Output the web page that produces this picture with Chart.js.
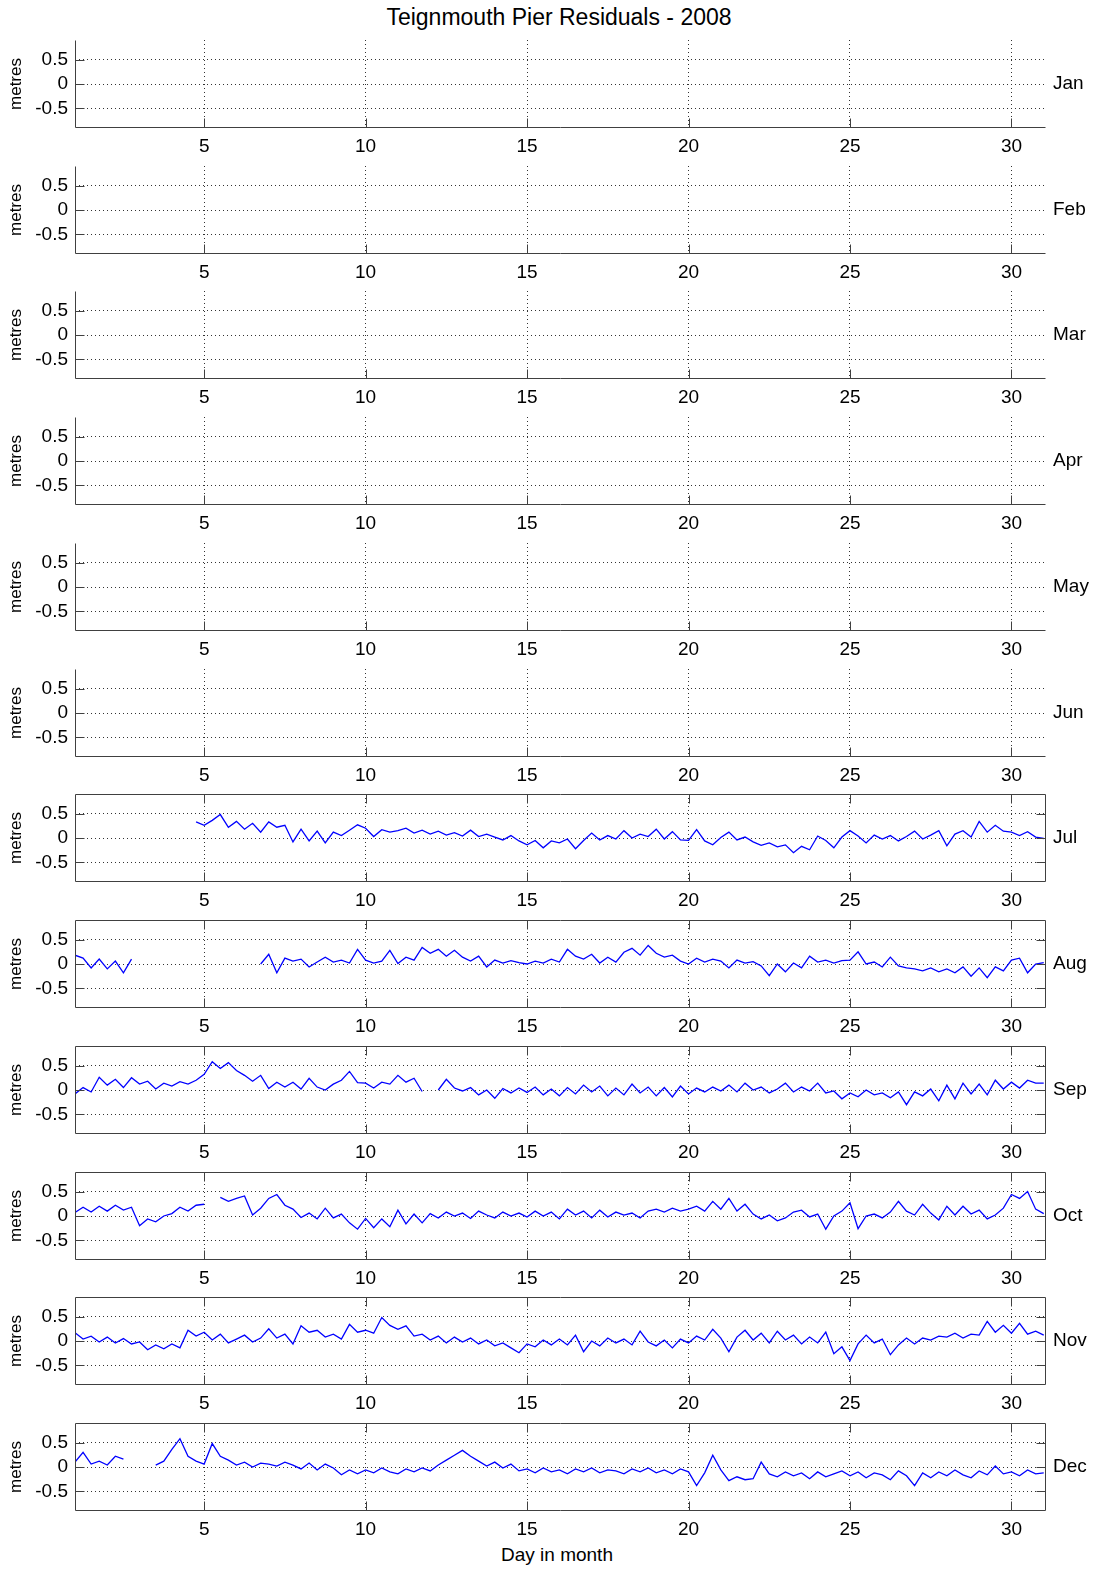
<!DOCTYPE html>
<html>
<head>
<meta charset="utf-8">
<script src="https://cdn.jsdelivr.net/npm/chart.js@4.4.1/dist/chart.umd.min.js"></script>
<style>
  body { margin: 0; background: #fff; width: 1095px; height: 1569px; position: relative; overflow: hidden;
         font-family: "Liberation Sans", Arial, sans-serif; }
  canvas { position: absolute; left: 0; }
  #title { position: absolute; left: 559px; top: 5px; transform: translateX(-50%); font-size: 23px; line-height: 24px; white-space: nowrap; }
  #xlabel { position: absolute; left: 557px; top: 1545px; transform: translateX(-50%); font-size: 19px; line-height: 20px; white-space: nowrap; }
</style>
</head>
<body>
<div id="title">Teignmouth Pier Residuals - 2008</div>
<div id="xlabel">Day in month</div>
<script>
const MONTHS = ['Jan', 'Feb', 'Mar', 'Apr', 'May', 'Jun', 'Jul', 'Aug', 'Sep', 'Oct', 'Nov', 'Dec'];
const DAY_TICKS = [5, 10, 15, 20, 25, 30];
const METRE_TICKS = [-0.5, 0, 0.5];
const STEP = 0.25; // one reading every 6 hours, first one at day 1

// residuals in metres, 4 per day (rows = days 1..30, then day 31)
const jul = [
  null, null, null, null,
  null, null, null, null,
  null, null, null, null,
  null, null, null, 0.33,
  0.26, 0.36, 0.48, 0.22,
  0.34, 0.18, 0.30, 0.12,
  0.33, 0.22, 0.26, -0.08,
  0.18, -0.06, 0.14, -0.10,
  0.12, 0.05, 0.16, 0.27,
  0.20, 0.03, 0.17, 0.12,
  0.15, 0.20, 0.10, 0.16,
  0.08, 0.14, 0.06, 0.11,
  0.04, 0.16, 0.03, 0.08,
  0.02, -0.04, 0.05, -0.06,
  -0.14, -0.05, -0.20, -0.06,
  -0.10, -0.02, -0.22, -0.05,
  0.10, -0.04, 0.05, -0.02,
  0.15, 0.00, 0.08, 0.03,
  0.18, -0.02, 0.13, -0.04,
  -0.05, 0.17, -0.06, -0.14,
  0.01, 0.12, -0.04, 0.02,
  -0.08, -0.15, -0.10, -0.18,
  -0.14, -0.30, -0.17, -0.24,
  0.04, -0.05, -0.20, 0.02,
  0.15, 0.04, -0.10, 0.06,
  -0.02, 0.05, -0.06, 0.03,
  0.14, -0.02, 0.06, 0.15,
  -0.16, 0.08, 0.15, 0.02,
  0.34, 0.12, 0.26, 0.14,
  0.12, 0.05, 0.13, 0.02,
  -0.01
];
const aug = [
  0.18, 0.12, -0.08, 0.10,
  -0.10, 0.06, -0.18, 0.10,
  null, null, null, null,
  null, null, null, null,
  null, null, null, null,
  null, null, null, 0.00,
  0.20, -0.18, 0.12, 0.06,
  0.10, -0.06, 0.04, 0.14,
  0.04, 0.08, 0.02, 0.30,
  0.08, 0.02, 0.06, 0.28,
  0.01, 0.14, 0.08, 0.34,
  0.22, 0.30, 0.16, 0.28,
  0.14, 0.06, 0.16, -0.06,
  0.08, 0.02, 0.07, 0.03,
  0.00, 0.06, 0.02, 0.10,
  0.04, 0.30, 0.16, 0.10,
  0.20, 0.02, 0.14, 0.04,
  0.24, 0.32, 0.18, 0.38,
  0.22, 0.14, 0.18, 0.06,
  0.00, 0.12, 0.04, 0.10,
  0.06, -0.08, 0.08, 0.02,
  0.05, -0.04, -0.24, 0.00,
  -0.16, 0.02, -0.08, 0.16,
  0.04, 0.08, 0.02, 0.07,
  0.08, 0.25, 0.00, 0.04,
  -0.06, 0.14, -0.04, -0.08,
  -0.10, -0.14, -0.08, -0.16,
  -0.10, -0.18, -0.06, -0.25,
  -0.08, -0.28, -0.06, -0.14,
  0.08, 0.12, -0.18, 0.00,
  0.03
];
const sep = [
  -0.08, 0.05, -0.04, 0.26,
  0.10, 0.22, 0.05, 0.25,
  0.12, 0.18, 0.02, 0.14,
  0.08, 0.17, 0.12, 0.20,
  0.32, 0.58, 0.44, 0.56,
  0.40, 0.30, 0.18, 0.30,
  0.03, 0.16, 0.06, 0.16,
  0.02, 0.24, 0.06, 0.00,
  0.12, 0.20, 0.38, 0.15,
  0.14, 0.04, 0.16, 0.12,
  0.30, 0.16, 0.24, -0.03,
  null, 0.00, 0.22, 0.04,
  -0.02, 0.05, -0.10, 0.00,
  -0.17, 0.03, -0.06, 0.04,
  -0.05, 0.06, -0.10, 0.02,
  -0.12, 0.05, -0.08, 0.10,
  -0.04, 0.08, -0.12, 0.04,
  -0.10, 0.12, -0.06, 0.06,
  -0.12, 0.05, -0.14, 0.08,
  -0.08, 0.04, -0.04, 0.06,
  -0.02, 0.10, -0.04, 0.14,
  0.00, 0.06, -0.06, 0.02,
  0.14, -0.04, 0.06, -0.02,
  0.14, -0.06, -0.02, -0.18,
  -0.06, -0.14, 0.00, -0.10,
  -0.06, -0.16, -0.04, -0.30,
  -0.04, -0.12, 0.02, -0.22,
  0.10, -0.18, 0.14, -0.08,
  0.12, -0.10, 0.20, 0.02,
  0.16, 0.04, 0.20, 0.14,
  0.14
];
const oct = [
  0.07, 0.18, 0.08, 0.20,
  0.10, 0.22, 0.12, 0.18,
  -0.20, -0.06, -0.12, 0.00,
  0.05, 0.18, 0.10, 0.22,
  0.24, null, 0.38, 0.30,
  0.36, 0.41, 0.02, 0.16,
  0.36, 0.44, 0.22, 0.14,
  -0.03, 0.06, -0.06, 0.16,
  -0.04, 0.04, -0.14, -0.27,
  -0.05, -0.24, -0.06, -0.22,
  0.12, -0.16, 0.04, -0.14,
  0.05, -0.04, 0.08, 0.00,
  0.06, -0.05, 0.10, 0.02,
  -0.04, 0.08, 0.00, 0.06,
  -0.02, 0.10, 0.00, 0.08,
  -0.06, 0.14, 0.02, 0.10,
  -0.04, 0.12, -0.02, 0.08,
  0.02, 0.06, -0.04, 0.10,
  0.14, 0.08, 0.16, 0.10,
  0.14, 0.20, 0.10, 0.30,
  0.14, 0.36, 0.10, 0.24,
  0.04, -0.06, 0.02, -0.10,
  -0.04, 0.08, 0.12, -0.02,
  0.04, -0.27, 0.00, 0.10,
  0.27, -0.26, 0.00, 0.04,
  -0.04, 0.08, 0.30, 0.10,
  0.02, 0.24, 0.06, -0.08,
  0.20, 0.02, 0.20, 0.04,
  0.12, -0.06, 0.02, 0.16,
  0.44, 0.36, 0.50, 0.14,
  0.05
];
const nov = [
  0.17, 0.04, 0.10, -0.02,
  0.08, -0.04, 0.05, -0.06,
  -0.02, -0.18, -0.08, -0.16,
  -0.06, -0.14, 0.22, 0.10,
  0.18, 0.02, 0.14, -0.04,
  0.04, 0.12, -0.02, 0.06,
  0.25, 0.06, 0.14, -0.06,
  0.31, 0.18, 0.22, 0.08,
  0.14, 0.04, 0.34, 0.18,
  0.22, 0.16, 0.48, 0.32,
  0.24, 0.31, 0.10, 0.14,
  0.02, 0.10, -0.04, 0.08,
  -0.02, 0.06, -0.06, 0.02,
  -0.10, -0.04, -0.14, -0.24,
  -0.06, -0.12, 0.02, -0.08,
  0.04, -0.08, 0.12, -0.22,
  0.00, -0.10, 0.06, -0.04,
  0.04, -0.08, 0.20, -0.02,
  -0.10, 0.02, -0.14, 0.04,
  -0.04, 0.10, 0.02, 0.24,
  0.06, -0.22, 0.08, 0.22,
  0.02, 0.16, -0.04, 0.20,
  0.02, 0.12, -0.06, 0.08,
  -0.04, 0.18, -0.26, -0.12,
  -0.40, -0.06, 0.12, -0.04,
  0.04, -0.28, -0.08, 0.06,
  -0.06, 0.06, 0.02, 0.10,
  0.08, 0.16, 0.06, 0.14,
  0.12, 0.40, 0.18, 0.32,
  0.16, 0.36, 0.14, 0.20,
  0.12
];
const dec = [
  0.10, 0.30, 0.06, 0.12,
  0.04, 0.22, 0.16, null,
  null, null, 0.04, 0.12,
  0.36, 0.58, 0.22, 0.12,
  0.06, 0.48, 0.22, 0.14,
  0.04, 0.10, 0.00, 0.08,
  0.06, 0.02, 0.10, 0.04,
  -0.04, 0.08, -0.06, 0.06,
  -0.02, -0.16, -0.06, -0.14,
  -0.06, -0.12, -0.02, -0.10,
  -0.14, -0.04, -0.10, -0.02,
  -0.08, 0.04, 0.14, 0.24,
  0.34, 0.22, 0.12, 0.02,
  0.10, -0.02, 0.06, -0.08,
  -0.04, -0.12, -0.02, -0.10,
  -0.06, -0.14, -0.04, -0.10,
  -0.02, -0.12, -0.06, -0.08,
  -0.14, -0.04, -0.10, -0.02,
  -0.12, -0.06, -0.14, -0.04,
  -0.10, -0.38, -0.12, 0.24,
  -0.06, -0.28, -0.20, -0.26,
  -0.24, 0.10, -0.14, -0.20,
  -0.10, -0.18, -0.12, -0.24,
  -0.10, -0.20, -0.14, -0.08,
  -0.18, -0.10, -0.22, -0.12,
  -0.16, -0.26, -0.08, -0.18,
  -0.38, -0.12, -0.22, -0.10,
  -0.18, -0.06, -0.16, -0.22,
  -0.08, -0.16, 0.02, -0.14,
  -0.10, -0.18, -0.06, -0.14,
  -0.12
];
const seriesByMonth = [null, null, null, null, null, null, jul, aug, sep, oct, nov, dec];

const FONT = '"Liberation Sans", Arial, sans-serif';
const TICK_LEN = 9;

// matlab style axes: left/bottom line (full box when there is data), inward ticks, labels
const matlabFrame = {
  id: 'matlabFrame',
  afterDraw(chart, args, opts) {
    const { ctx, chartArea: a, scales: { x, y } } = chart;
    const L = Math.round(a.left) + 0.5, R = Math.round(a.right) - 0.5;
    const T = Math.round(a.top) + 0.5, B = Math.round(a.bottom) - 0.5;
    ctx.save();
    ctx.strokeStyle = '#404040';
    ctx.lineWidth = 1;
    ctx.beginPath();
    ctx.moveTo(L, T); ctx.lineTo(L, B); ctx.lineTo(R, B);
    if (opts.boxed) { ctx.lineTo(R, T); ctx.lineTo(L, T); }
    ctx.stroke();

    ctx.beginPath();
    DAY_TICKS.forEach(d => {
      const px = Math.round(x.getPixelForValue(d)) + 0.5;
      ctx.moveTo(px, B); ctx.lineTo(px, B - TICK_LEN);
      if (opts.boxed) { ctx.moveTo(px, T); ctx.lineTo(px, T + TICK_LEN); }
    });
    METRE_TICKS.forEach(v => {
      const py = Math.round(y.getPixelForValue(v)) + 0.5;
      ctx.moveTo(L, py); ctx.lineTo(L + TICK_LEN, py);
      if (opts.boxed) { ctx.moveTo(R, py); ctx.lineTo(R - TICK_LEN, py); }
    });
    ctx.stroke();

    ctx.fillStyle = '#000';
    ctx.textBaseline = 'middle';
    ctx.textAlign = 'left';
    ctx.font = '19px ' + FONT;
    ctx.fillText(opts.month, a.right + 7, y.getPixelForValue(0));

    ctx.translate(16, (a.top + a.bottom) / 2);
    ctx.rotate(-Math.PI / 2);
    ctx.textAlign = 'center';
    ctx.font = '17px ' + FONT;
    ctx.fillText('metres', 0, 0);
    ctx.restore();
  }
};

const noPadding = s => { s.paddingTop = 0; s.paddingBottom = 0; s.paddingLeft = 0; s.paddingRight = 0; };

MONTHS.forEach((month, i) => {
  const zeroY = 84 + i * 125.73;
  const canvas = document.createElement('canvas');
  canvas.width = 1095;
  canvas.height = 124;
  canvas.style.top = Math.round(zeroY - 50) + 'px';
  document.body.appendChild(canvas);

  const values = seriesByMonth[i];
  const points = values ? values.map((v, k) => ({ x: 1 + k * STEP, y: v })) : [];

  new Chart(canvas.getContext('2d'), {
    type: 'line',
    data: {
      datasets: [{
        data: points,
        borderColor: '#0000ff',
        borderWidth: 1.3,
        pointRadius: 0,
        tension: 0,
        fill: false,
        spanGaps: false
      }]
    },
    options: {
      responsive: false,
      animation: false,
      devicePixelRatio: 1,
      events: [],
      layout: { padding: { top: 6, right: 49, left: 0, bottom: 0 } },
      scales: {
        x: {
          type: 'linear',
          min: 1,
          max: 31.07,
          afterFit: s => { s.height = 30; noPadding(s); },
          afterBuildTicks: s => { s.ticks = DAY_TICKS.map(v => ({ value: v })); },
          grid: { color: '#333', lineWidth: 1, drawTicks: false },
          border: { display: false, dash: [1, 3] },
          ticks: {
            autoSkip: false, maxRotation: 0, padding: 7, color: '#000',
            font: { family: FONT, size: 19 },
            callback: v => String(v)
          }
        },
        y: {
          min: -0.9,
          max: 0.9,
          afterFit: s => { s.width = 75; noPadding(s); },
          afterBuildTicks: s => { s.ticks = METRE_TICKS.map(v => ({ value: v })); },
          grid: { color: '#333', lineWidth: 1, drawTicks: false },
          border: { display: false, dash: [1, 3] },
          ticks: {
            autoSkip: false, padding: 7, color: '#000',
            font: { family: FONT, size: 19 },
            callback: v => String(v)
          }
        }
      },
      plugins: {
        legend: { display: false },
        tooltip: { enabled: false },
        matlabFrame: { boxed: !!values, month: month }
      }
    },
    plugins: [matlabFrame]
  });
});
</script>
</body>
</html>
